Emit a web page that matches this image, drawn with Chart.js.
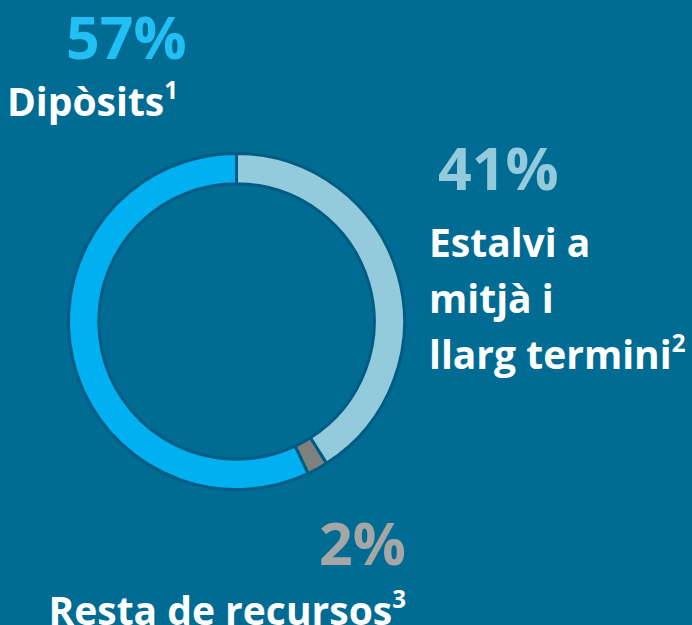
<!DOCTYPE html>
<html>
<head>
<meta charset="utf-8">
<script src="https://cdn.jsdelivr.net/npm/chart.js@4/dist/chart.umd.min.js"></script>
<style>
  html, body { margin:0; padding:0; }
  body { width:692px; height:625px; background:#006c93; position:relative; overflow:hidden; font-family:"Open Sans", Lato, sans-serif; font-weight:bold; }
  #wrap { position:absolute; left:60px; top:145px; width:353px; height:353px; }
  .lbl { position:absolute; white-space:nowrap; color:#fff; }
  .pct { font-size:59px; line-height:59px; }
  .name { font-size:39px; line-height:56px; }
  sup { font-size:0.62em; vertical-align:0.72em; line-height:0; }
</style>
</head>
<body>
<div id="wrap"><canvas id="c" width="353" height="353"></canvas></div>
<div id="labels"></div>
<script>
// Data (clockwise from 12 o'clock)
const categories = ['Estalvi a mitjà i llarg termini', 'Resta de recursos', 'Dipòsits'];
const values = [41, 2, 57];
const notes = ['2', '3', '1'];
const segmentColors = ['#93cbdd', '#808080', '#00b0f0'];
const pctColors = ['#93cbdd', '#a6a6a6', '#22bff5'];
const nameLines = [['Estalvi a', 'mitjà i', 'llarg termini'], ['Resta de recursos'], ['Dipòsits']];

new Chart(document.getElementById('c'), {
  type: 'doughnut',
  data: {
    labels: categories,
    datasets: [{
      data: values,
      backgroundColor: segmentColors,
      borderColor: '#005c82',
      borderWidth: 3,
      hoverOffset: 0
    }]
  },
  options: {
    responsive: false,
    animation: false,
    cutout: '82%',
    layout: { padding: 7 },
    plugins: { legend: { display: false }, tooltip: { enabled: false } }
  }
});

// Labels as HTML text
const L = document.getElementById('labels');
function add(html, style, cls) {
  const d = document.createElement('div');
  d.className = 'lbl ' + cls;
  d.innerHTML = html;
  Object.assign(d.style, style);
  L.appendChild(d);
  return d;
}
function nameHtml(i) {
  const lines = nameLines[i].slice();
  lines[lines.length - 1] += '<sup>' + notes[i] + '</sup>';
  return lines.join('<br>');
}
// Dipòsits
add(values[2] + '%', { left: '66px', top: '7px', color: pctColors[2] }, 'pct');
add(nameHtml(2), { left: '7px', top: '73px' }, 'name');
// Estalvi
add(values[0] + '%', { left: '438px', top: '138px', color: pctColors[0] }, 'pct');
add(nameHtml(0), { left: '429px', top: '214px' }, 'name');
// Resta
add(values[1] + '%', { right: '286px', top: '513px', color: pctColors[1] }, 'pct');
add(nameHtml(1), { right: '286px', top: '582px' }, 'name');
</script>
</body>
</html>
